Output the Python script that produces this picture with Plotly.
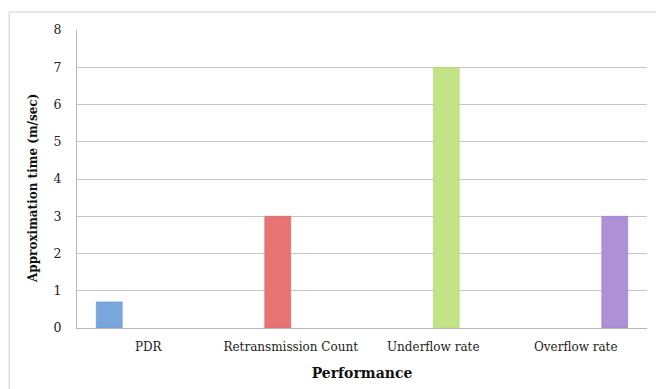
import plotly.graph_objects as go

categories = ["PDR", "Retransmission Count", "Underflow rate", "Overflow rate"]
pdr_values = [0.7, None, None, None]
retrans_values = [None, 3, None, None]
underflow_values = [None, None, 7, None]
overflow_values = [None, None, None, 3]
series_names = ["PDR", "Retransmission Count", "Underflow rate", "Overflow rate"]
series_colors = ["#79a6dd", "#e87373", "#c3e387", "#ad90d6"]
series_lines = ["#5f8fcc", "#d95858", "#a9d06c", "#9476c4"]
y_ticks = [0, 1, 2, 3, 4, 5, 6, 7, 8]
y_title = "Approximation time (m/sec)"
x_title = "Performance"

FONT = "DejaVu Serif"

fig = go.Figure()
for name, vals, col, lc in zip(series_names,
                               [pdr_values, retrans_values, underflow_values, overflow_values],
                               series_colors, series_lines):
    fig.add_trace(go.Bar(x=categories, y=vals, name=name,
                         marker=dict(color=col, line=dict(color=lc, width=0.5))))

fig.update_layout(
    width=656, height=389,
    margin=dict(l=77, r=9, t=30, b=61),
    paper_bgcolor="white", plot_bgcolor="white",
    barmode="group", bargap=0.27, bargroupgap=0,
    showlegend=False,
    font=dict(family=FONT, size=12, color="#222222"),
    xaxis=dict(showgrid=False, showline=True, linecolor="#b8b8b8", linewidth=1,
               ticks="", ticklabelstandoff=8, tickfont=dict(family=FONT, size=12, color="#222222"),
               title=dict(text="<b>" + x_title + "</b>", font=dict(family=FONT, size=14, color="#111111"),
                          standoff=14)),
    yaxis=dict(range=[0, 8], tickvals=y_ticks, showgrid=True, gridcolor="#c4c4c4", gridwidth=1,
               showline=True, linecolor="#b8b8b8", linewidth=1, zeroline=False,
               ticks="", ticklabelstandoff=12,
               tickfont=dict(family=FONT, size=12.5, color="#222222")),
    annotations=[
        dict(text="<b>" + y_title + "</b>", textangle=-90, xref="paper", yref="paper",
             x=0, y=0.5, xanchor="center", yanchor="middle", xshift=-44, yshift=-10,
             showarrow=False, font=dict(family=FONT, size=12, color="#111111")),
    ],
    shapes=[
        dict(type="line", xref="paper", yref="paper", x0=-0.119, x1=1.02, y0=1.0607, y1=1.0607,
             line=dict(color="#d0d0d0", width=1)),
        dict(type="line", xref="paper", yref="paper", x0=-0.119, x1=-0.119, y0=1.0607, y1=-0.3,
             line=dict(color="#d0d0d0", width=1)),
    ],
)

fig.write_html("out.html", config={"displayModeBar": False},
               post_script="document.body.style.margin='0px';")
